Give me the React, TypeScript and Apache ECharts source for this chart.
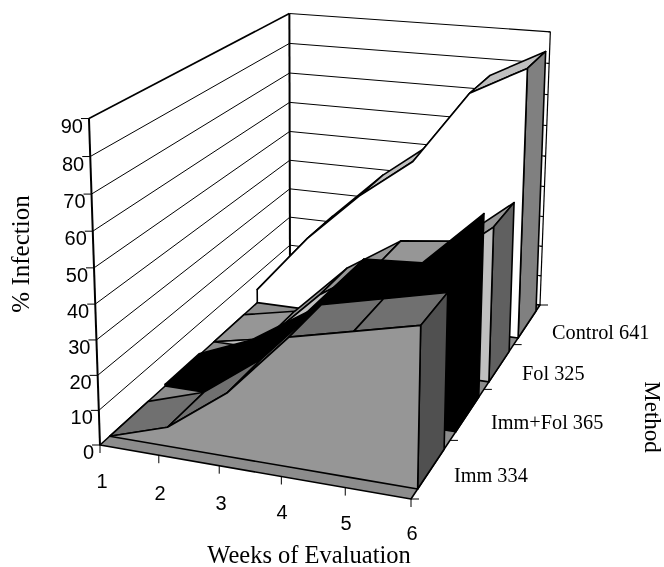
import React, { useEffect, useRef } from "react";
import * as echarts from "echarts";

const weeks = ["1", "2", "3", "4", "5", "6"];
const methods = ["Imm 334", "Imm+Fol 365", "Fol 325", "Control 641"];
const yTicks = [0, 10, 20, 30, 40, 50, 60, 70, 80, 90];
const imm = [0, 5.5, 18, 36, 40, 44];
const immFol = [0.5, 7.5, 18.5, 37, 38, 54.5];
const fol = [0, 3.5, 20, 31, 33, 47];
const control = [4.5, 24, 40, 53, 76, 85];

const bandStyles = [
  { front: "#969696", roof: "#707070", side: "#505050" },
  { front: "#000000", roof: "#000000", side: "#000000" },
  { front: "#c0c0c0", roof: "#969696", side: "#606060" },
  { front: "#ffffff", roof: "#c0c0c0", side: "#808080" },
];
const bandValues = [imm, immFol, fol, control];
const yMax = 90;
const inset = 0.16;

// Projection calibrated from the wall and floor corners
const A = [100, 445], B = [411, 499], C = [540, 305], D = [290, 273];
const At = [91, 129], Dt = [290, 10], Ct = [548, 27];

function makeProjection() {
  const sx = A[0] - B[0] + C[0] - D[0], sy = A[1] - B[1] + C[1] - D[1];
  const dx1 = B[0] - C[0], dx2 = D[0] - C[0], dy1 = B[1] - C[1], dy2 = D[1] - C[1];
  const det = dx1 * dy2 - dx2 * dy1;
  const g = (sx * dy2 - dx2 * sy) / det, h = (dx1 * sy - sx * dy1) / det;
  const a = B[0] - A[0] + g * B[0], b = D[0] - A[0] + h * D[0], c = A[0];
  const d = B[1] - A[1] + g * B[1], e = D[1] - A[1] + h * D[1], f = A[1];
  const base = (x: number, y: number) => [a * x + b * y + c, d * x + e * y + f, g * x + h * y + 1];
  const samples = [[0, 0, At], [0, 1, Dt], [1, 1, Ct]] as [number, number, number[]][];
  const rows = samples.map(([x, y, t]) => {
    const [X, Y, W] = base(x, y);
    return { u: t[0], v: t[1], al: t[0] * W - X, be: t[1] * W - Y };
  });
  const mean = (k: "u" | "v" | "al" | "be") => rows.reduce((s, r) => s + r[k], 0) / rows.length;
  const mu = mean("u"), mv = mean("v"), mal = mean("al"), mbe = mean("be");
  let num = 0, den = 0;
  rows.forEach((r) => {
    num += (r.u - mu) * (r.al - mal) + (r.v - mv) * (r.be - mbe);
    den += (r.u - mu) ** 2 + (r.v - mv) ** 2;
  });
  const r = -num / den, p = mal + r * mu, q = mbe + r * mv;
  return (x: number, y: number, z: number) => {
    const [X, Y, W] = base(x, y);
    const w = W + z * r;
    return [(X + z * p) / w, (Y + z * q) / w];
  };
}
const project = makeProjection();
const xOf = (i: number) => i / (weeks.length - 1);
const zOf = (v: number) => v / yMax;

const poly = (points: number[][], fill: string, lineWidth = 1.6) => ({
  type: "polygon",
  shape: { points },
  style: { fill, stroke: "#000", lineWidth, lineJoin: "round" },
});
const seg = (p: number[], q: number[], lineWidth = 1) => ({
  type: "line",
  shape: { x1: p[0], y1: p[1], x2: q[0], y2: q[1] },
  style: { stroke: "#000", lineWidth },
});

function renderFrame() {
  const children: any[] = [];
  const sl = methods.length;
  children.push(poly([project(0, 0, 0), project(1, 0, 0), project(1, 1, 0), project(0, 1, 0)], "#8c8c8c", 1.6));
  yTicks.forEach((t) => {
    const z = zOf(t);
    if (t > 0 && t < yMax) {
      children.push(seg(project(0, 0, z), project(0, 1, z)));
      children.push(seg(project(0, 1, z), project(1, 1, z)));
    }
    const p = project(0, 0, z);
    children.push(seg(p, [p[0] - 8, p[1]]));
    const q = project(1, 1, z);
    children.push(seg(q, [q[0] - 2, q[1]], 1));
  });
  children.push(seg(project(0, 0, 1), project(0, 1, 1), 1.6));
  children.push(seg(project(0, 1, 1), project(1, 1, 1), 1.2));
  children.push(seg(project(1, 1, 1), project(1, 1, 0), 1.2));
  children.push(seg(project(0, 0, 0), project(0, 0, 1), 2));
  children.push(seg(project(0, 1, 0), project(0, 1, 1), 2));
  weeks.forEach((_, i) => {
    const p = project(xOf(i), 0, 0);
    children.push(seg(p, [p[0], p[1] + 8]));
  });
  for (let s = 0; s <= sl; s++) {
    const p = project(1, s / sl, 0);
    children.push(seg(p, [p[0] + 8, p[1]]));
  }
  return { type: "group", children };
}

function renderBand(slot: number) {
  return (_params: any, api: any) => {
    const st = bandStyles[slot];
    const y0 = (slot + inset) / methods.length, y1 = (slot + 1 - inset) / methods.length;
    const vals = weeks.map((_, i) => zOf(api.value(i)));
    const children: any[] = [];
    for (let i = 0; i < vals.length - 1; i++) {
      children.push(
        poly(
          [
            project(xOf(i), y0, vals[i]),
            project(xOf(i + 1), y0, vals[i + 1]),
            project(xOf(i + 1), y1, vals[i + 1]),
            project(xOf(i), y1, vals[i]),
          ],
          st.roof
        )
      );
    }
    const n = vals.length - 1;
    children.push(
      poly([project(1, y0, 0), project(1, y1, 0), project(1, y1, vals[n]), project(1, y0, vals[n])], st.side)
    );
    const front: number[][] = vals.map((_, i) => project(xOf(i), y0, 0));
    for (let i = n; i >= 0; i--) front.push(project(xOf(i), y0, vals[i]));
    children.push(poly(front, st.front));
    return { type: "group", children };
  };
}

const sans = "Liberation Sans, Arial, sans-serif";
const serif = "Liberation Serif, Times New Roman, serif";
const txt = (text: string, x: number, y: number, font: string, size: number, align = "left", rotation = 0) => ({
  type: "text",
  x,
  y,
  rotation,
  silent: true,
  style: { text, x: 0, y: 0, fill: "#000", font: `${size}px ${font}`, textAlign: align, textVerticalAlign: "middle" },
});

const weekLabelPos = [[102, 481], [160, 493], [221, 503], [282, 512], [346, 523], [412, 533]];
const methodLabelPos = [[454, 475], [491, 422], [522, 373], [552, 332]];

export default function App() {
  const ref = useRef<HTMLDivElement>(null);
  useEffect(() => {
    const chart = echarts.init(ref.current!, undefined, { renderer: "svg" });
    const texts: any[] = [];
    yTicks.forEach((t) => {
      const p = project(0, 0, zOf(t));
      texts.push(txt(String(t), p[0] - 6, p[1] + 7, sans, 20, "right"));
    });
    weeks.forEach((w, i) => texts.push(txt(w, weekLabelPos[i][0], weekLabelPos[i][1], sans, 20, "center")));
    methods.forEach((m, i) => texts.push(txt(m, methodLabelPos[i][0], methodLabelPos[i][1], serif, 20.3)));
    texts.push(txt("Weeks of Evaluation", 309, 554.5, serif, 24.5, "center"));
    texts.push(txt("% Infection", 20, 254, serif, 25, "center", Math.PI / 2));
    texts.push(txt("Method", 652, 417, serif, 23, "center", -Math.PI / 2));
    chart.setOption({
      animation: false,
      graphic: { elements: texts },
      series: [
        { type: "custom", coordinateSystem: "none", silent: true, renderItem: renderFrame, data: [[0]] },
        ...bandValues.map((vals, slot) => ({ type: "custom", coordinateSystem: "none", silent: true, name: methods[slot], renderItem: renderBand(slot), data: [vals] })).reverse(),
      ],
    });
    return () => chart.dispose();
  }, []);
  return <div ref={ref} style={{ position: "fixed", left: 0, top: 0, width: 664, height: 567 }} />;
}
